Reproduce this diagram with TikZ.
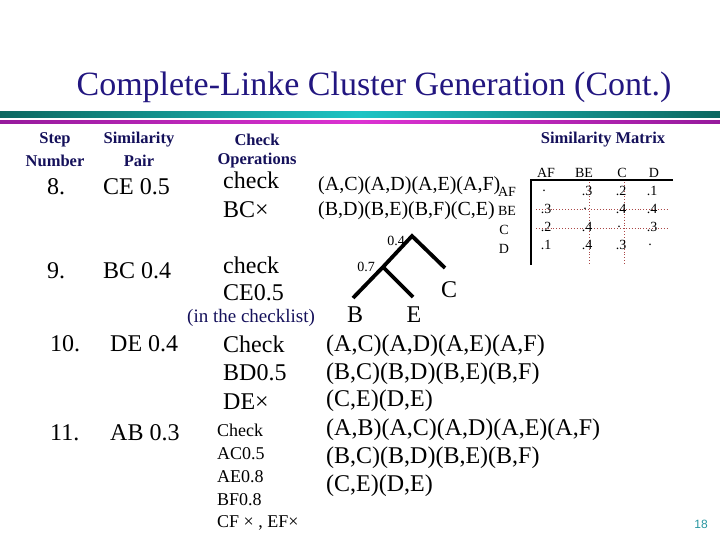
\documentclass[tikz,border=0pt]{standalone}
\usepackage{fontspec}
\setmainfont{Liberation Serif}
\newfontfamily\numfont{Liberation Sans}
\definecolor{navy}{RGB}{34,22,128}
\definecolor{headnavy}{RGB}{20,16,90}
\definecolor{tealdark}{RGB}{12,104,96}
\definecolor{teallight}{RGB}{30,196,196}
\definecolor{magdark}{RGB}{150,26,156}
\definecolor{maglight}{RGB}{220,50,210}
\definecolor{dotred}{RGB}{170,70,70}
\definecolor{pagenum}{RGB}{40,150,160}
\tikzset{
  body/.style={anchor=west, inner sep=0pt, font=\fontsize{24}{28}\selectfont},
  mid/.style={anchor=west, inner sep=0pt, font=\fontsize{20}{24}\selectfont},
  small/.style={anchor=west, inner sep=0pt, font=\fontsize{18}{22}\selectfont},
  head/.style={inner sep=0pt, text=headnavy, font=\fontsize{16.5}{19}\selectfont\bfseries},
  mat/.style={inner sep=0pt, font=\fontsize{14}{16}\selectfont},
  branch/.style={line width=3.8pt},
  grid/.style={dotted, dotred, line width=0.9pt}
}
\begin{document}
\begin{tikzpicture}[x=1pt,y=-1pt]
\useasboundingbox (0,0) rectangle (720,540);
% title and bars
\node[text=navy, font=\fontsize{34}{40}\selectfont, inner sep=0pt] (title) at (374,87) {Complete-Linke Cluster Generation (Cont.)};
\shade[left color=tealdark, right color=tealdark, middle color=teallight] (0,112) rectangle (720,118);
\shade[left color=magdark, right color=magdark, middle color=maglight] (0,121) rectangle (720,124);
% headers
\node[head] (h1a) at (55,140) {Step};
\node[head] (h1b) at (55,161) {Number};
\node[head] (h2a) at (139,140) {Similarity};
\node[head] (h2b) at (139,161) {Pair};
\node[head] (h3a) at (257,140) {Check};
\node[head] (h3b) at (257,161) {Operations};
\node[head] (h4) at (603,140) {Similarity Matrix};
% step 8
\node[body] (s8) at (47,187) {8.};
\node[body] (p8) at (103,187) {CE 0.5};
\node[body] (c8a) at (223,180) {check};
\node[body] (c8b) at (223,210) {BC×};
\node[mid] (l8a) at (318,186) {(A,C)(A,D)(A,E)(A,F)};
\node[mid] (l8b) at (318,211) {(B,D)(B,E)(B,F)(C,E)};
% step 9
\node[body] (s9) at (47,271) {9.};
\node[body] (p9) at (103,271) {BC 0.4};
\node[body] (c9a) at (223,265) {check};
\node[body] (c9b) at (223,293) {CE0.5};
\node[small, text=headnavy, font=\fontsize{19}{22}\selectfont] (c9c) at (187,318) {(in the checklist)};
% tree
\coordinate (apex) at (412,236);
\coordinate (junc) at (383,267);
\coordinate (bend) at (353,298);
\coordinate (eend) at (413,297);
\coordinate (cend) at (445,268);
\draw[branch] (bend) -- (junc) -- (apex) -- (cend);
\draw[branch] (junc) -- (eend);
\node[mat] (l04) at (396,241) {0.4};
\node[mat] (l07) at (366,267) {0.7};
\node[body, anchor=center] (nB) at (355,315) {B};
\node[body, anchor=center] (nE) at (414,315) {E};
\node[body, anchor=center] (nC) at (449,290) {C};
% matrix
\node[mat] (mh1) at (546,173) {AF};
\node[mat] (mh2) at (584,173) {BE};
\node[mat] (mh3) at (622,173) {C};
\node[mat] (mh4) at (654,173) {D};
\node[mat] (mr1) at (507,192) {AF};
\node[mat] (mr2) at (507,211) {BE};
\node[mat] (mr3) at (504,230) {C};
\node[mat] (mr4) at (504,249) {D};
\coordinate (tl) at (531,180);
\coordinate (tr) at (673,180);
\coordinate (bl) at (531,265);
\draw[line width=2pt] (tr) -- (tl) -- (bl);
\coordinate (v1t) at (589,182); \coordinate (v1b) at (589,264);
\coordinate (v2t) at (624,182); \coordinate (v2b) at (624,264);
\coordinate (h1l) at (536,209); \coordinate (h1r) at (668,209);
\coordinate (h2l) at (536,228); \coordinate (h2r) at (668,228);
\draw[grid] (v1t) -- (v1b);
\draw[grid] (v2t) -- (v2b);
\draw[grid] (h1l) -- (h1r);
\draw[grid] (h2l) -- (h2r);
\node[mat] (m11) at (544,191) {.};
\node[mat] (m12) at (587,191) {.3};
\node[mat] (m13) at (621,191) {.2};
\node[mat] (m14) at (652,191) {.1};
\node[mat] (m21) at (546,209) {.3};
\node[mat] (m22) at (585,209) {.};
\node[mat] (m23) at (621,209) {.4};
\node[mat] (m24) at (652,209) {.4};
\node[mat] (m31) at (546,227) {.2};
\node[mat] (m32) at (587,227) {.4};
\node[mat] (m33) at (619,227) {.};
\node[mat] (m34) at (652,227) {.3};
\node[mat] (m41) at (546,245) {.1};
\node[mat] (m42) at (587,245) {.4};
\node[mat] (m43) at (621,245) {.3};
\node[mat] (m44) at (650,245) {.};
% step 10
\node[body] (s10) at (50,344) {10.};
\node[body] (p10) at (110,344) {DE 0.4};
\node[body] (c10a) at (223,344) {Check};
\node[body] (c10b) at (223,373) {BD0.5};
\node[body] (c10c) at (223,402) {DE×};
% step 11
\node[body] (s11) at (50,433) {11.};
\node[body] (p11) at (110,433) {AB 0.3};
\node[small] (c11a) at (217,430) {Check};
\node[small] (c11b) at (217,454) {AC0.5};
\node[small] (c11c) at (217,477) {AE0.8};
\node[small] (c11d) at (217,500) {BF0.8};
\node[small] (c11e) at (217,523) {CF × , EF×};
% lists
\node[body] (r1) at (326,346) {(A,C)(A,D)(A,E)(A,F)};
\node[body] (r2) at (326,374) {(B,C)(B,D)(B,E)(B,F)};
\node[body] (r3) at (326,401) {(C,E)(D,E)};
\node[body] (r4) at (326,430) {(A,B)(A,C)(A,D)(A,E)(A,F)};
\node[body] (r5) at (326,458) {(B,C)(B,D)(B,E)(B,F)};
\node[body] (r6) at (326,486) {(C,E)(D,E)};
\node[inner sep=0pt, text=pagenum, font=\numfont\fontsize{12}{14}\selectfont] (pg) at (701,524) {18};
\end{tikzpicture}
\end{document}
